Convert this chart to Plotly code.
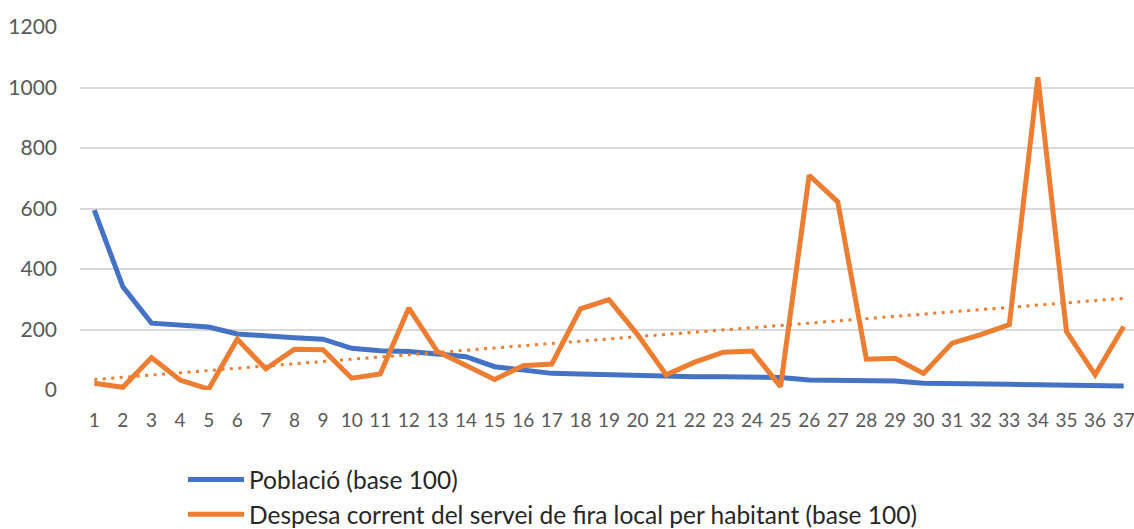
import numpy as np
import plotly.graph_objects as go

# Municipality rank (1..37)
categories = list(range(1, 38))

# Població (base 100)
poblacio = [595, 341, 221, 213, 208, 185, 177, 173, 168, 138, 130, 127, 119, 110,
            77, 66, 55, 53, 50, 48, 48, 44, 44, 41, 41, 33, 33, 32, 30, 22, 22, 21,
            19, 17, 17, 13, 13]

# Despesa corrent del servei de fira local per habitant (base 100)
despesa = [22, 9, 107, 33, 3, 168, 70, 135, 133, 39, 53, 271, 127, 83, 35, 80, 86,
           268, 299, 183, 50, 92, 125, 129, 11, 710, 622, 102, 105, 55, 155, 183,
           216, 1034, 193, 50, 210]

y_ticks = [0, 200, 400, 600, 800, 1000, 1200]

BLUE = "#4472C4"
ORANGE = "#ED7D31"
GRID = "#D9D9D9"
TEXT = "#595959"
FONT = "Lato"

# Linear trend of the spending series
x_arr = np.array(categories, dtype=float)
slope, intercept = np.polyfit(x_arr, np.array(despesa, dtype=float), 1)
trend = slope * x_arr + intercept

fig = go.Figure()
fig.add_trace(go.Scatter(
    x=categories, y=poblacio, mode="lines", name="Població (base 100)",
    line=dict(color=BLUE, width=5)))
fig.add_trace(go.Scatter(
    x=categories, y=despesa, mode="lines",
    name="Despesa corrent del servei de fira local per habitant (base 100)",
    line=dict(color=ORANGE, width=5)))
fig.add_trace(go.Scatter(
    x=categories, y=trend, mode="lines", showlegend=False,
    line=dict(color=ORANGE, width=3, dash="3px,5.5px")))

fig.update_layout(
    width=1134, height=529,
    margin=dict(l=80, r=0, t=27, b=139, autoexpand=False),
    paper_bgcolor="white", plot_bgcolor="white",
    font=dict(family=FONT, color=TEXT),
    showlegend=True,
    legend=dict(
        orientation="v",
        xref="container", yref="container",
        x=183 / 1134, xanchor="left",
        y=1 - 457 / 529, yanchor="top",
        font=dict(family=FONT, size=24.5, color="#262626"),
        itemwidth=56, tracegroupgap=0,
        bgcolor="rgba(0,0,0,0)",
    ),
)
fig.update_xaxes(
    range=[0.5, 37.36], tickmode="array", tickvals=categories,
    ticktext=[str(c) for c in categories], tickangle=0,
    ticklabeloverflow="allow",
    showgrid=False, zeroline=False, showline=False,
    ticks="", ticklabelstandoff=17,
    tickfont=dict(family=FONT, size=19, color=TEXT),
)
fig.update_yaxes(
    range=[0, 1200], tickmode="array", tickvals=y_ticks,
    showgrid=True, gridcolor=GRID, gridwidth=1.5,
    zeroline=False, showline=False,
    ticks="", ticklabelstandoff=22,
    tickfont=dict(family=FONT, size=21, color=TEXT),
)

fig.write_html("out.html")
